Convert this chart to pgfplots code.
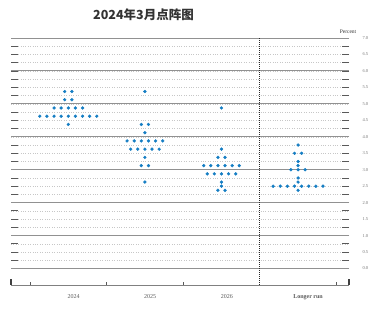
\documentclass[border=0pt]{standalone}
\usepackage{fontspec}
\setmainfont{Liberation Serif}
\newfontfamily\cjk{Noto Sans CJK SC}
\usepackage{pgfplots}
\pgfplotsset{compat=1.18}
\definecolor{dotblue}{RGB}{20,125,195}
\definecolor{gridsolid}{RGB}{145,145,145}
\pgfplotstableread{
x y
-0.0465 5.375
0.0465 5.375
-0.0465 5.125
0.0465 5.125
-0.186 4.875
-0.093 4.875
0 4.875
0.093 4.875
0.186 4.875
-0.372 4.625
-0.279 4.625
-0.186 4.625
-0.093 4.625
0 4.625
0.093 4.625
0.186 4.625
0.279 4.625
0.372 4.625
0 4.375
1 5.375
0.9535 4.375
1.0465 4.375
1 4.125
0.7675 3.875
0.8605 3.875
0.9535 3.875
1.0465 3.875
1.1395 3.875
1.2325 3.875
0.814 3.625
0.907 3.625
1 3.625
1.093 3.625
1.186 3.625
1 3.375
0.9535 3.125
1.0465 3.125
1 2.625
2 4.875
2 3.625
1.9535 3.375
2.0465 3.375
1.7675 3.125
1.8605 3.125
1.9535 3.125
2.0465 3.125
2.1395 3.125
2.2325 3.125
1.814 2.875
1.907 2.875
2 2.875
2.093 2.875
2.186 2.875
2 2.625
2 2.5
1.9535 2.375
2.0465 2.375
3 3.75
2.9535 3.5
3.0465 3.5
3 3.25
3 3.125
2.907 3.0
3 3.0
3.093 3.0
3 2.75
3 2.625
2.6745 2.5
2.7675 2.5
2.8605 2.5
2.9535 2.5
3.0465 2.5
3.1395 2.5
3.2325 2.5
3.3255 2.5
3 2.375
}\dots
\begin{document}
\begin{tikzpicture}[x=1pt,y=1pt]
\useasboundingbox (0,0) rectangle (382,315);
\node[font=\cjk\bfseries\fontsize{12.5}{14}\selectfont, text=black!80] at (143.5,300) {2024年3月点阵图};
\node[font=\fontsize{5.5}{6}\selectfont, text=black!80] at (348,283) {Percent};
\begin{axis}[
  at={(11pt,30pt)}, anchor=south west,
  scale only axis, width=338pt, height=247pt,
  xmin=-0.748, xmax=3.665, ymin=-0.5, ymax=7,
  axis line style={draw=none},
  xtick=\empty,
  ytick={0,0.5,...,7}, minor ytick={0.25,0.75,...,6.75},
  ytick pos=both, yticklabel pos=right, tick align=inside,
  major tick length=7pt, minor tick length=7pt,
  every tick/.style={black!65, line width=0.8pt},
  ymajorgrids, yminorgrids,
  major grid style={black!22, dotted, line width=0.5pt},
  minor grid style={black!22, dotted, line width=0.5pt},
  yticklabel style={font=\fontsize{4.5}{5}\selectfont, text=black!55, /pgf/number format/fixed, /pgf/number format/fixed zerofill, /pgf/number format/precision=1, xshift=10pt},
  /pgf/number format/assume math mode=true,
  clip=false,
  extra x ticks={0.07,1.07,2.07,3.13},
  extra x tick labels={2024,2025,2026,{\textbf{Longer run}}},
  extra x tick style={major tick length=0pt, grid=none, xticklabel style={font=\fontsize{6}{7}\selectfont, text=black!65, yshift=-6pt}},
]
\pgfplotsinvokeforeach{0,1,2,3,4,5,6,7}{
  \draw[gridsolid, line width=0.9pt] (axis cs:-0.748,#1) -- (axis cs:3.665,#1);
}
\draw[black!50, line width=0.9pt] (axis cs:-0.748,-0.5) -- (axis cs:3.665,-0.5);
\draw[black!75, line width=1.3pt] (axis cs:-0.748,-0.5) -- ++(0pt,6pt);
\draw[black!75, line width=1.3pt] (axis cs:3.665,-0.5) -- ++(0pt,6pt);
\pgfplotsinvokeforeach{-0.5,0.5,1.5,3.5}{
  \draw[black!65, line width=0.6pt] (axis cs:#1,-0.5) -- ++(0pt,3pt);
}
\draw[black!85, line width=1pt, densely dotted] (axis cs:2.5,-0.5) -- (axis cs:2.5,7);
\addplot[dotblue, only marks, mark=*, mark size=1.45pt, mark options={draw=none, fill=dotblue}] table {\dots};
\end{axis}
\end{tikzpicture}
\end{document}
